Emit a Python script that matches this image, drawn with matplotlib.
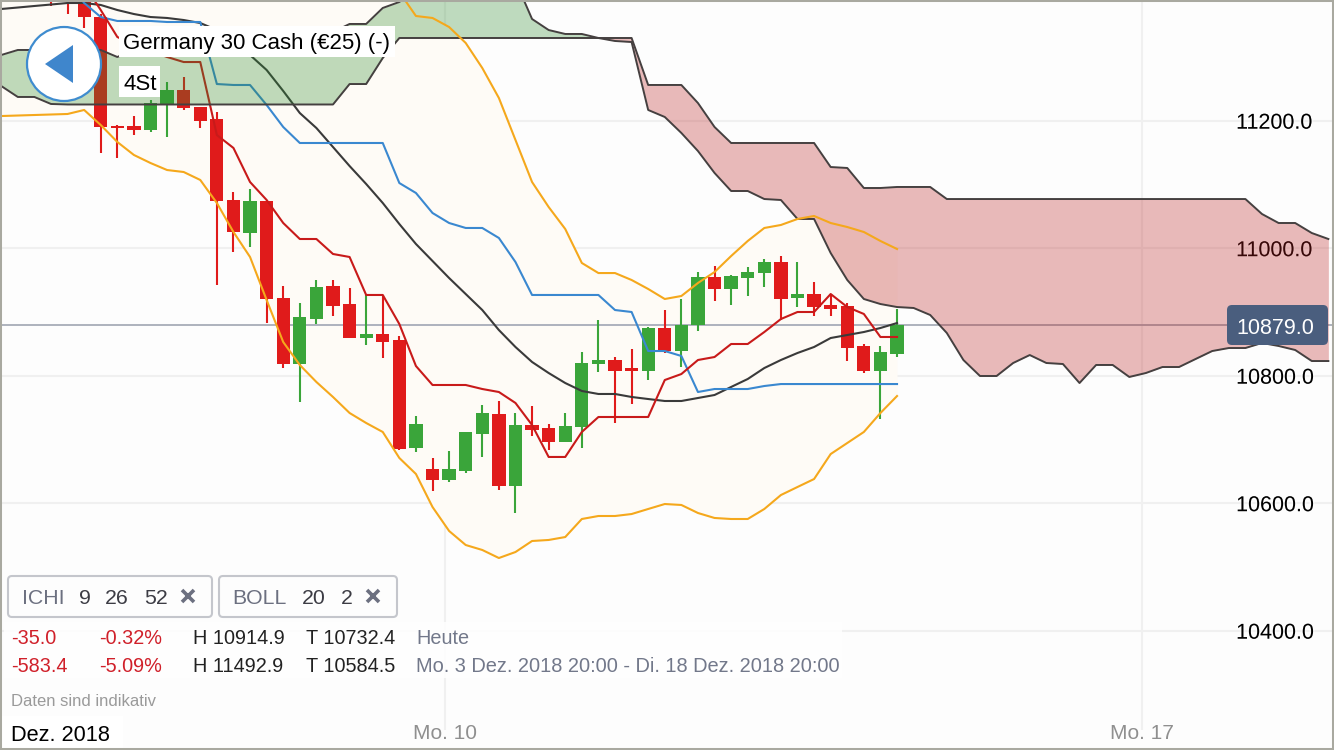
import matplotlib
matplotlib.use("Agg")
import matplotlib.pyplot as plt
import matplotlib.patheffects as pe
from matplotlib.patches import Circle, FancyBboxPatch, Polygon, Rectangle
import numpy as np

plt.rcParams['font.family'] = ['Liberation Sans', 'DejaVu Sans']

# candles, the first one sits on bar 3
opens = [11412.8, 11397.1, 11394.0, 11362.6, 11191.6, 11191.6, 11185.4, 11226.2, 11248.1, 11221.5,
         11202.6, 11075.6, 11023.8, 11074.0, 10921.9, 10818.3, 10888.9, 10940.7, 10912.4, 10859.1,
         10865.4, 10856.0, 10686.6, 10653.6, 10636.4, 10650.5, 10708.5, 10739.9, 10627.0, 10722.6,
         10718.0, 10696.0, 10719.5, 10818.3, 10824.6, 10812.0, 10807.3, 10874.8, 10838.7, 10879.5,
         10954.8, 10936.0, 10953.2, 10961.0, 10978.3, 10921.9, 10928.1, 10910.9, 10909.3, 10846.6,
         10807.3, 10834.0]
highs = [11420.7, 11405.0, 11401.8, 11367.3, 11193.2, 11207.3, 11232.4, 11260.7, 11268.5, 11221.5,
         11213.6, 11088.1, 11092.8, 11074.0, 10940.7, 10914.0, 10950.1, 10950.1, 10937.5, 10926.6,
         10926.6, 10862.2, 10736.8, 10670.9, 10681.9, 10711.7, 10754.0, 10760.3, 10741.5, 10752.4,
         10724.2, 10741.5, 10837.1, 10887.4, 10829.3, 10841.9, 10876.4, 10903.0, 10920.3, 10962.6,
         10972.0, 10957.9, 10970.5, 10983.0, 10987.7, 10978.3, 10947.0, 10928.1, 10914.0, 10849.7,
         10846.6, 10904.6]
lows = [11379.9, 11367.3, 11345.4, 11149.3, 11141.5, 11177.5, 11182.2, 11174.4, 11216.8, 11188.5,
        10942.2, 10994.0, 11001.9, 10882.6, 10812.0, 10758.7, 10881.0, 10893.6, 10859.1, 10848.1,
        10827.7, 10683.4, 10680.3, 10619.1, 10633.2, 10647.3, 10672.5, 10620.7, 10584.6, 10705.4,
        10683.4, 10696.0, 10686.6, 10805.8, 10725.8, 10755.6, 10793.2, 10835.6, 10813.6, 10870.1,
        10917.2, 10910.9, 10925.0, 10939.1, 10887.4, 10907.7, 10893.6, 10893.6, 10823.0, 10804.2,
        10732.4, 10829.3]
closes = [11397.1, 11386.2, 11362.6, 11190.1, 11188.5, 11185.4, 11227.7, 11248.1, 11219.9, 11199.5,
          11074.0, 11025.4, 11074.0, 10920.3, 10818.3, 10892.0, 10939.1, 10909.3, 10859.1, 10865.4,
          10852.8, 10685.0, 10724.2, 10636.4, 10653.6, 10711.7, 10741.5, 10627.0, 10722.6, 10714.8,
          10696.0, 10721.1, 10819.9, 10824.6, 10807.3, 10807.3, 10874.8, 10838.7, 10879.5, 10954.8,
          10936.0, 10956.4, 10962.6, 10978.3, 10920.3, 10928.1, 10907.7, 10904.6, 10843.4, 10807.3,
          10837.1, 10879.0]

# indicators, bar 0 to bar 54
tenkan = [11436.4, 11436.4, 11436.4, 11436.4, 11436.4, 11412.8, 11373.6, 11331.3, 11318.7, 11309.3,
          11299.9, 11292.0, 11292.0, 11177.5, 11157.2, 11103.8, 11075.6, 11039.5, 11014.4, 11014.4,
          10990.9, 10986.2, 10926.6, 10926.6, 10881.0, 10815.2, 10785.4, 10785.4, 10785.4, 10779.1,
          10774.4, 10757.2, 10722.6, 10672.5, 10672.5, 10711.7, 10735.2, 10735.2, 10735.2, 10735.2,
          10793.2, 10802.6, 10824.6, 10829.3, 10849.7, 10849.7, 10868.5, 10888.9, 10899.9, 10899.9,
          10928.1, 10907.7, 10896.8, 10860.7, 10860.7]
kijun = [11452.0, 11452.0, 11452.0, 11452.0, 11420.7, 11384.6, 11362.6, 11356.4, 11356.4, 11356.4,
         11354.8, 11354.8, 11354.8, 11257.5, 11256.0, 11256.0, 11224.6, 11190.1, 11165.0, 11165.0,
         11165.0, 11165.0, 11165.0, 11165.0, 11102.2, 11086.6, 11055.2, 11039.5, 11031.7, 11031.7,
         11016.0, 10978.3, 10926.6, 10926.6, 10926.6, 10926.6, 10926.6, 10903.0, 10899.9, 10838.7,
         10838.7, 10830.9, 10774.4, 10779.1, 10779.1, 10779.1, 10783.8, 10786.9, 10786.9, 10786.9,
         10786.9, 10786.9, 10786.9, 10786.9, 10786.9]
boll_mid = [11375.2, 11377.5, 11379.9, 11382.2, 11384.6, 11384.6, 11381.5, 11373.6, 11367.3, 11362.6,
            11361.1, 11357.9, 11353.2, 11342.2, 11323.4, 11303.0, 11279.5, 11246.6, 11212.0, 11188.5,
            11158.7, 11128.9, 11100.7, 11070.9, 11037.9, 11006.6, 10979.9, 10953.2, 10928.1, 10903.0,
            10871.6, 10845.0, 10821.5, 10804.2, 10788.5, 10776.0, 10771.3, 10771.3, 10766.6, 10763.4,
            10760.3, 10760.3, 10765.0, 10769.7, 10782.3, 10794.8, 10812.0, 10824.6, 10835.6, 10845.0,
            10859.1, 10863.8, 10868.5, 10874.8, 10882.6]
boll_up = [11483.4, 11483.4, 11483.4, 11483.4, 11483.4, 11483.4, 11483.4, 11483.4, 11483.4, 11483.4,
           11483.4, 11483.4, 11483.4, 11483.4, 11483.4, 11483.4, 11483.4, 11483.4, 11483.4, 11483.4,
           11483.4, 11483.4, 11483.4, 11436.4, 11401.8, 11364.2, 11361.1, 11346.9, 11321.9, 11282.6,
           11235.6, 11169.7, 11103.8, 11064.6, 11030.1, 10976.8, 10961.0, 10961.0, 10950.1, 10936.0,
           10920.3, 10925.0, 10945.4, 10962.6, 10987.7, 11011.3, 11031.7, 11036.4, 11045.8, 11050.5,
           11039.5, 11033.2, 11025.4, 11011.3, 10998.7]
boll_low = [11207.3, 11208.1, 11208.9, 11209.7, 11210.5, 11216.8, 11193.2, 11166.6, 11146.2, 11133.6,
            11122.6, 11119.5, 11107.0, 11070.9, 11025.4, 10986.2, 10918.7, 10852.8, 10816.8, 10790.1,
            10766.6, 10741.5, 10725.8, 10711.7, 10670.9, 10645.8, 10594.0, 10556.4, 10534.4, 10526.6,
            10514.0, 10523.4, 10540.7, 10542.3, 10546.9, 10575.2, 10579.9, 10579.9, 10583.0, 10590.9,
            10598.7, 10597.2, 10584.6, 10576.8, 10575.2, 10575.2, 10590.9, 10612.8, 10625.4, 10637.9,
            10677.1, 10694.4, 10711.7, 10741.5, 10768.1]

# cloud runs on to bar 80
span_a = [11303.0, 11310.9, 11310.9, 11307.7, 11307.7, 11310.9, 11310.9, 11299.9, 11310.9, 11310.9,
          11310.9, 11310.9, 11310.9, 11310.9, 11310.9, 11310.9, 11310.9, 11310.9, 11310.9, 11326.6,
          11339.1, 11351.7, 11351.7, 11376.8, 11386.2, 11405.0, 11405.0, 11405.0, 11405.0, 11405.0,
          11405.0, 11419.1, 11359.5, 11342.2, 11336.0, 11336.0, 11329.7, 11325.0, 11323.4, 11216.8,
          11205.8, 11180.7, 11152.4, 11118.0, 11089.7, 11089.7, 11077.1, 11075.6, 11045.8, 11045.8,
          10992.4, 10950.1, 10920.3, 10912.4, 10907.7, 10906.2, 10895.2, 10867.0, 10824.6, 10799.5,
          10799.5, 10819.9, 10832.4, 10819.9, 10818.3, 10788.5, 10816.8, 10816.8, 10798.0, 10804.2,
          10813.6, 10813.6, 10826.2, 10838.7, 10843.4, 10843.4, 10851.3, 10846.6, 10840.3, 10823.0,
          10823.0]
span_b = [11254.4, 11237.2, 11237.2, 11226.2, 11225.4, 11225.4, 11225.4, 11225.4, 11225.4, 11225.4,
          11225.4, 11225.4, 11225.4, 11225.4, 11225.4, 11225.4, 11225.4, 11225.4, 11225.4, 11225.4,
          11225.4, 11257.5, 11257.5, 11298.3, 11329.7, 11329.7, 11329.7, 11329.7, 11329.7, 11329.7,
          11329.7, 11329.7, 11329.7, 11329.7, 11329.7, 11329.7, 11329.7, 11329.7, 11329.7, 11256.0,
          11256.0, 11256.0, 11227.7, 11190.1, 11165.0, 11165.0, 11165.0, 11165.0, 11165.0, 11165.0,
          11127.3, 11125.8, 11094.4, 11094.4, 11096.0, 11096.0, 11096.0, 11077.1, 11077.1, 11077.1,
          11077.1, 11077.1, 11077.1, 11077.1, 11077.1, 11077.1, 11077.1, 11077.1, 11077.1, 11077.1,
          11077.1, 11077.1, 11077.1, 11077.1, 11077.1, 11077.1, 11053.6, 11039.5, 11039.5, 11023.8,
          11014.4]

price_ticks = [10400, 10600, 10800, 11000, 11200]
day_ticks = [26.75, 68.75]
day_labels = ['Mo. 10', 'Mo. 17']
last_price = 10879.0

RED = '#e01b1b'
GREEN = '#3aa53a'

fig = plt.figure(figsize=(13.34, 7.5), dpi=100, facecolor='#fdfdfd')
ax = fig.add_axes([0, 0, 1, 1], facecolor='#fdfdfd')
ax.set_xlim(-0.072, 80.34)
ax.set_ylim(10212.85, 11389.3)
for s in ax.spines.values():
    s.set_visible(False)

# grid, stops above the date strip
strip_top = 10244
ax.hlines(price_ticks, -1, 81, color='#f0f0f0', lw=1.5, zorder=1)
ax.vlines(day_ticks, strip_top, 11389.3, color='#f0f0f0', lw=1.5, zorder=1)

idx = np.arange(len(boll_mid))
ax.fill_between(idx, boll_low, boll_up, color='#fefbf6', lw=0, zorder=1.5)
ax.hlines(last_price, -1, 81, color='#adb2bd', lw=1.4, zorder=2)

# candles
cx = np.arange(3, 3 + len(opens))
colors = [GREEN if c >= o else RED for o, c in zip(opens, closes)]
ax.vlines(cx, lows, highs, colors=colors, lw=1.5, zorder=3)
body_low = np.minimum(opens, closes)
body_h = np.abs(np.array(closes) - np.array(opens))
ax.bar(cx, body_h, bottom=body_low, width=0.8, color=colors, lw=0, zorder=3)

# indicators, the bands stay on top of the cloud
ax.plot(idx, boll_up, color='#f5a81c', lw=1.5, zorder=7)
ax.plot(idx, boll_low, color='#f5a81c', lw=1.5, zorder=7)
ax.plot(idx, boll_mid, color='#3a3a3a', lw=1.5, zorder=4)
ax.plot(idx, kijun, color='#3a88d0', lw=1.5, zorder=4)
ax.plot(idx, tenkan, color='#c81a1a', lw=1.5, zorder=4)

# cloud goes over the candles
cloud_x = np.arange(len(span_a))
a = np.array(span_a)
b = np.array(span_b)
ax.fill_between(cloud_x, a, b, where=a >= b, interpolate=True, color='#2e8b2e', alpha=0.3, lw=0, zorder=5)
ax.fill_between(cloud_x, a, b, where=a <= b, interpolate=True, color='#b81c1c', alpha=0.3, lw=0, zorder=5)
ax.plot(cloud_x, a, color='#454040', lw=1.4, zorder=6)
ax.plot(cloud_x, b, color='#454040', lw=1.4, zorder=6)

# axis labels sit inside the plot
ax.yaxis.tick_right()
ax.set_yticks(price_ticks, [f'{t:.1f}' for t in price_ticks])
ax.tick_params(axis='y', length=0, pad=-70.5, labelsize=15.5, labelcolor='black', zorder=8)
for lab in ax.get_yticklabels():
    lab.set_path_effects([pe.withStroke(linewidth=2.5, foreground='white', alpha=0.5)])
ax.set_xticks(day_ticks, day_labels)
ax.tick_params(axis='x', length=0, pad=-18.5, labelsize=15, labelcolor='#8f8f8f')

# interface overlay in pixel coordinates
ui = fig.add_axes([0, 0, 1, 1], facecolor='none')
ui.set_xlim(0, 1334)
ui.set_ylim(750, 0)
ui.set_xticks([])
ui.set_yticks([])
for s in ui.spines.values():
    s.set_color('#a9a9a0')
    s.set_linewidth(2.9)


def box(x0, y0, x1, y1, fc='white', ec='none', lw=0, r=0, alpha=1.0, z=2):
    if r:
        p = FancyBboxPatch((x0 + r, y0 + r), x1 - x0 - 2 * r, y1 - y0 - 2 * r,
                           boxstyle=f'round,pad={r},rounding_size={r}', fc=fc, ec=ec, lw=lw, alpha=alpha, zorder=z)
    else:
        p = Rectangle((x0, y0), x1 - x0, y1 - y0, fc=fc, ec=ec, lw=lw, alpha=alpha, zorder=z)
    ui.add_patch(p)


def label(x, y, s, color='black', size=14.3, ha='left'):
    ui.text(x, y, s, color=color, fontsize=size, ha=ha, va='center_baseline', zorder=5)


# back button
ui.add_patch(Circle((64, 64), 37, fc='white', ec='#3f8ccf', lw=1.6, zorder=2))
ui.add_patch(Polygon([(45, 64), (73, 45), (73, 83)], fc='#3f86cc', ec='none', zorder=3))

# title
box(119, 26, 395, 57)
label(123, 41.5, 'Germany 30 Cash (€25) (-)', size=16)
box(119, 66, 160, 97)
label(123, 81.5, '4St', size=16)

# last price badge
box(1227, 305, 1328, 345, fc='#4a5e7e', r=5)
label(1275, 325.5, f'{last_price:.1f}', color='white', size=15.5, ha='center')

# indicator chips
CHIP = '#6c7080'
DARK = '#3c3c44'
box(8, 576, 212, 617, fc='#fdfdfd', ec='#c4c6cc', lw=1.5, r=4)
box(219, 576, 397, 617, fc='#fdfdfd', ec='#c4c6cc', lw=1.5, r=4)
label(22, 596, 'ICHI', color=CHIP, size=15.3)
label(79, 596, '9', color=DARK, size=15.3)
label(105, 596, '26', color=DARK, size=15.3)
label(144, 596, '52', color=DARK, size=15.3)
label(232, 596, 'BOLL', color=CHIP, size=15.3)
label(302, 596, '20', color=DARK, size=15.3)
label(341, 596, '2', color=DARK, size=15.3)
ui.plot([188, 373], [596, 596], ls='none', marker='x', ms=9, mew=2.6, color=CHIP, zorder=5)

# stats rows
box(4, 622, 842, 678, alpha=0.85)
TXT_RED = '#d0202a'
GREY = '#72788a'
label(11, 636, '-35.0', color=TXT_RED)
label(99, 636, '-0.32%', color=TXT_RED)
label(193, 636, 'H 10914.9', color='#222222')
label(306, 636, 'T 10732.4', color='#222222')
label(416, 636, 'Heute', color=GREY)
label(11, 664, '-583.4', color=TXT_RED)
label(99, 664, '-5.09%', color=TXT_RED)
label(193, 664, 'H 11492.9', color='#222222')
label(306, 664, 'T 10584.5', color='#222222')
label(416, 664, 'Mo. 3 Dez. 2018 20:00 - Di. 18 Dez. 2018 20:00', color=GREY, size=14.4)
label(11, 699.5, 'Daten sind indikativ', color='#9a9a9a', size=12)

box(2, 716, 123, 748)
label(11, 733, 'Dez. 2018', size=15.7)

fig.savefig('out.png', dpi=100, facecolor=fig.get_facecolor())
